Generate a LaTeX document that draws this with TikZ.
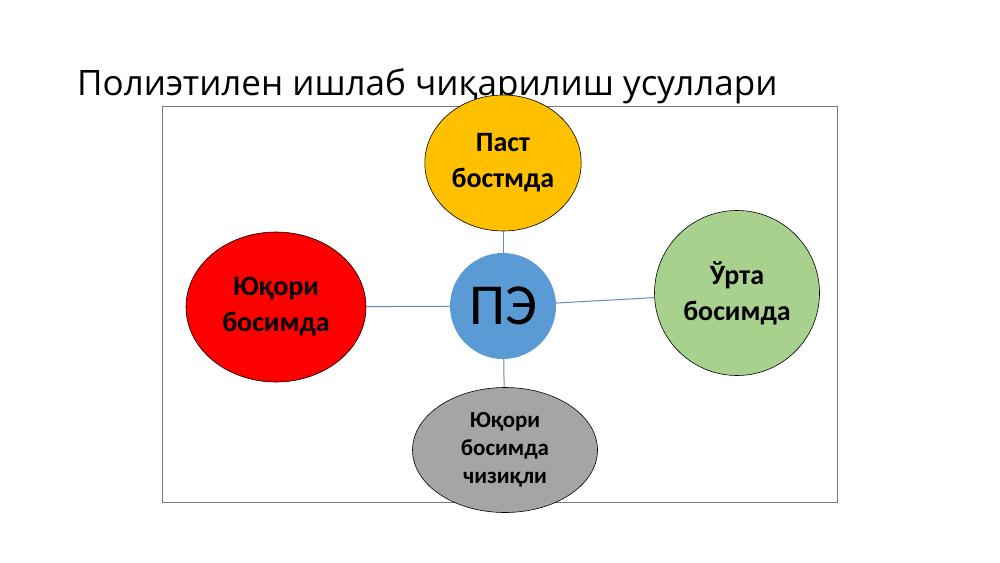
\documentclass[tikz,border=0pt]{standalone}
\usepackage{fontspec}
\setmainfont{Carlito}
\newfontfamily\titlefont{Open Sans}
\usepackage{tikz}
\usetikzlibrary{positioning}

\definecolor{peblue}{RGB}{91,155,213}
\definecolor{linkblue}{RGB}{95,140,190}
\definecolor{pastyellow}{RGB}{255,192,0}
\definecolor{urtagreen}{RGB}{169,209,142}
\definecolor{chizgray}{RGB}{165,165,165}
\definecolor{framegray}{RGB}{120,120,120}

\begin{document}
\begin{tikzpicture}[x=1pt,y=-1pt,
  bubble/.style={draw=black,line width=0.6pt,shape=circle,inner sep=0pt},
  bigtext/.style={align=center,font=\bfseries\fontsize{28}{36}\selectfont},
  link/.style={draw=linkblue,line width=1pt}]
\useasboundingbox (0,0) rectangle (1000,562);

% frame
\draw [framegray,line width=0.7pt] (162,106) rectangle (837,502);

% title
\node (title) [anchor=base west,inner sep=0pt,font=\titlefont\fontsize{35}{40}\selectfont] at (77,95) {Полиэтилен ишлаб чиқарилиш усуллари};

% connectors first, bubbles on top
\node (pe) [circle,fill=peblue,minimum size=106pt,inner sep=0pt] at (503,306) {};
\node (past) [bubble,fill=pastyellow,minimum size=136pt,xscale=1.15] at (503,163) {};
\node (yuqori) [bubble,fill=red,minimum size=150pt,xscale=1.2] at (276,307) {};
\node (urta) [bubble,fill=urtagreen,minimum size=165pt] at (737,293) {};
\node (chiziq) [bubble,fill=chizgray,minimum size=125pt,xscale=1.48] at (505,450) {};

\draw [link] (pe) -- (past);
\draw [link] (pe) -- (yuqori);
\draw [link] (pe) -- (urta);
\draw [link] (pe) -- (chiziq);

% texts
\node (pasttext) [bigtext] at (past) {Паст\\бостмда};
\node (yuqoritext) [bigtext] at (yuqori) {Юқори\\босимда};
\node (urtatext) [bigtext] at (urta) {Ўрта\\босимда};
\node (chiziqtext) [align=center,font=\bfseries\fontsize{23}{28}\selectfont] at (chiziq) {Юқори\\босимда\\чизиқли};
\node (petext) [font=\fontsize{58}{64}\selectfont] at (pe) {ПЭ};
\end{tikzpicture}
\end{document}
